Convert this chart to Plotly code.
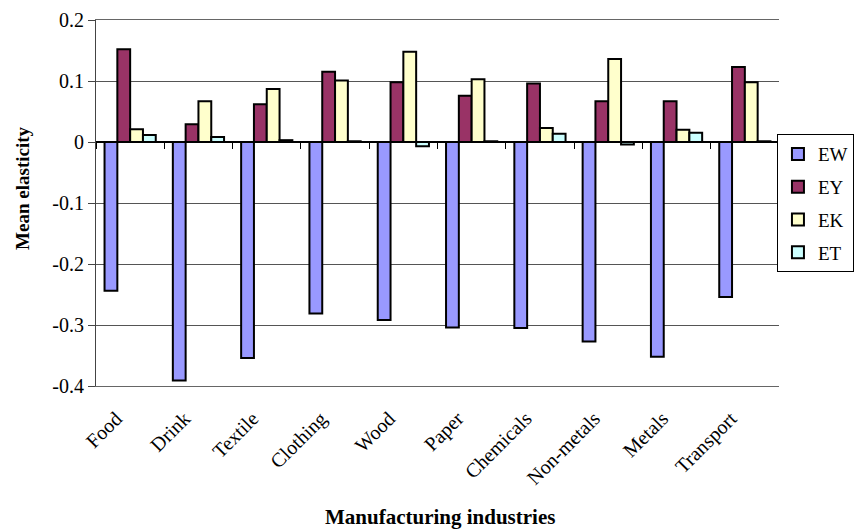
import plotly.graph_objects as go

# Mean elasticities by manufacturing industry
industries = ["Food", "Drink", "Textile", "Clothing", "Wood", "Paper",
              "Chemicals", "Non-metals", "Metals", "Transport"]
ew = [-0.244, -0.391, -0.354, -0.281, -0.292, -0.304, -0.305, -0.327, -0.352, -0.254]
ey = [0.152, 0.029, 0.062, 0.115, 0.098, 0.076, 0.096, 0.067, 0.067, 0.123]
ek = [0.021, 0.067, 0.087, 0.101, 0.148, 0.103, 0.023, 0.136, 0.020, 0.098]
et = [0.0115, 0.008, 0.003, 0.0012, -0.007, 0.0012, 0.0136, -0.004, 0.015, 0.0012]

series_names = ["EW", "EY", "EK", "ET"]
series_colors = ["#9999FF", "#993366", "#FFFFCC", "#CCFFFF"]

y_ticks = [-0.4, -0.3, -0.2, -0.1, 0, 0.1, 0.2]
y_tick_labels = ["-0.4", "-0.3", "-0.2", "-0.1", "0", "0.1", "0.2"]

FONT = "Liberation Serif, Times New Roman, serif"

x_pos = list(range(len(industries)))
y_min, y_max = y_ticks[0], y_ticks[-1]

fig = go.Figure()
for name, vals, color in zip(series_names, [ew, ey, ek, et], series_colors):
    fig.add_trace(go.Bar(
        x=x_pos, y=vals, name=name, legendgroup=name,
        marker=dict(color=color, line=dict(color="black", width=2)),
    ))

x_range = [-0.5, len(industries) - 0.5]
boundaries = [i - 0.5 for i in range(len(industries) + 1)]

fig.update_layout(
    width=860, height=530,
    margin=dict(l=96, r=81, t=20, b=144, autoexpand=False),
    paper_bgcolor="white", plot_bgcolor="white",
    font=dict(family=FONT, size=20, color="black"),
    barmode="group", bargap=0.25, bargroupgap=0,
    showlegend=True,
    legend=dict(
        x=0.997, y=0.688, xanchor="left", yanchor="top",
        bordercolor="black", borderwidth=1, bgcolor="white",
        font=dict(family=FONT, size=19),
        tracegroupgap=5, itemwidth=30,
    ),
    xaxis=dict(
        range=x_range, tickmode="array", tickvals=x_pos, ticktext=industries,
        tickangle=-45, showgrid=False, zeroline=False,
        showline=True, linecolor="#666666", linewidth=1, mirror=True,
        ticks="", ticklabelstandoff=12, ticklabelshift=-14,
        tickfont=dict(family=FONT, size=20),
    ),
    # category axis line drawn at y = 0 with ticks between categories
    xaxis2=dict(
        overlaying="x", anchor="free",
        position=(0 - y_min) / (y_max - y_min),
        range=x_range, tickmode="array", tickvals=boundaries,
        showticklabels=False, ticks="outside", ticklen=6,
        tickcolor="black", tickwidth=1,
        showline=True, linecolor="black", linewidth=1.5,
        showgrid=False, zeroline=False,
    ),
    yaxis=dict(
        range=[y_min, y_max], tickmode="array", tickvals=y_ticks,
        ticktext=y_tick_labels, showgrid=True, gridcolor="#555555",
        gridwidth=1, zeroline=False, showline=True, linecolor="#444444",
        linewidth=1, ticks="outside", ticklen=7, tickcolor="#444444",
        tickfont=dict(family=FONT, size=20),
    ),
    annotations=[
        dict(text="<b>Manufacturing industries</b>", xref="paper", yref="paper",
             x=0.503, y=-0.358, xanchor="center", yanchor="middle",
             showarrow=False, font=dict(family=FONT, size=21)),
        dict(text="<b>Mean elasticity</b>", xref="paper", yref="paper",
             x=-0.107, y=0.541, xanchor="center", yanchor="middle",
             textangle=-90, showarrow=False, font=dict(family=FONT, size=19)),
    ],
)

# empty trace so the overlaid zero-line axis is rendered
fig.add_trace(go.Scatter(x=[], y=[], xaxis="x2", showlegend=False, hoverinfo="skip"))

fig.write_html("out.html")
